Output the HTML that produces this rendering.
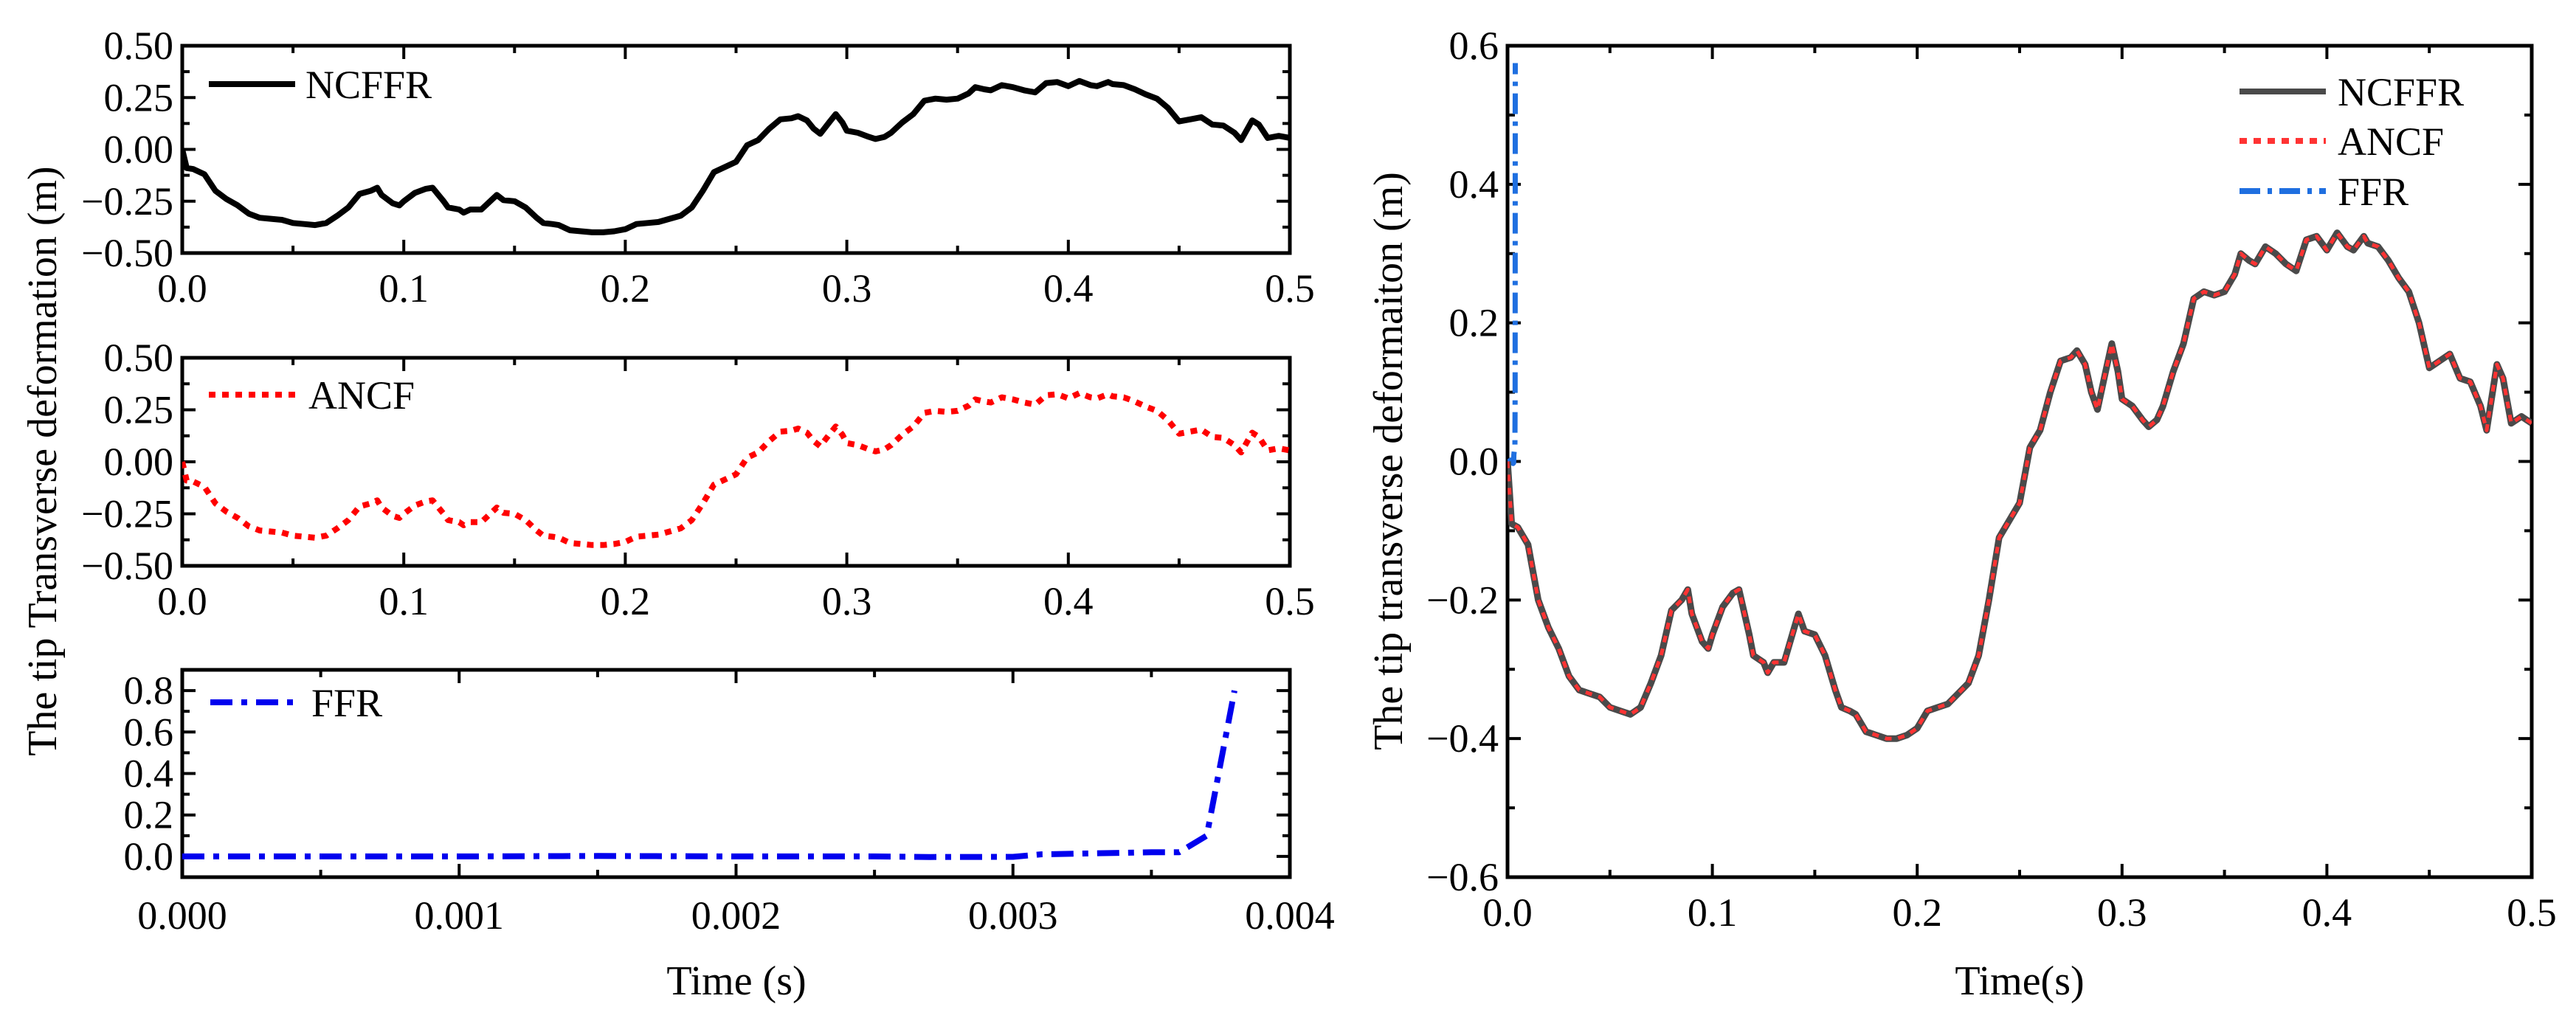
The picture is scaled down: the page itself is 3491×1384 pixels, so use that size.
<!DOCTYPE html>
<html><head><meta charset="utf-8"><style>
html,body{margin:0;padding:0;background:#fff}
svg{display:block}
text{font-family:"Liberation Serif",serif;fill:#000}
</style></head><body>
<svg id="fig" width="3491" height="1384" viewBox="0 0 3491 1384" xmlns="http://www.w3.org/2000/svg"></svg>
<script>
const timeS=[0,0.002,0.005,0.01,0.015,0.02,0.025,0.03,0.035,0.04,0.045,0.05,0.055,0.06,0.065,0.07,0.075,0.08,0.085,0.088,0.09,0.095,0.098,0.1,0.105,0.11,0.113,0.118,0.12,0.125,0.127,0.13,0.135,0.14,0.142,0.145,0.15,0.155,0.16,0.163,0.167,0.17,0.175,0.18,0.185,0.19,0.195,0.2,0.205,0.21,0.215,0.22,0.225,0.23,0.235,0.24,0.245,0.25,0.255,0.26,0.265,0.27,0.275,0.278,0.282,0.285,0.288,0.292,0.295,0.298,0.3,0.305,0.31,0.313,0.317,0.32,0.325,0.33,0.335,0.34,0.345,0.35,0.355,0.358,0.362,0.365,0.37,0.375,0.38,0.385,0.39,0.395,0.4,0.405,0.41,0.413,0.418,0.42,0.425,0.43,0.435,0.44,0.445,0.45,0.455,0.46,0.465,0.47,0.475,0.478,0.483,0.486,0.49,0.495,0.5];
const ncffr=[0,-0.09,-0.095,-0.12,-0.2,-0.24,-0.27,-0.31,-0.33,-0.335,-0.34,-0.355,-0.36,-0.365,-0.355,-0.32,-0.28,-0.215,-0.2,-0.185,-0.22,-0.26,-0.27,-0.25,-0.21,-0.19,-0.185,-0.25,-0.28,-0.29,-0.305,-0.29,-0.29,-0.24,-0.22,-0.245,-0.25,-0.28,-0.33,-0.355,-0.36,-0.365,-0.39,-0.395,-0.4,-0.4,-0.395,-0.385,-0.36,-0.355,-0.35,-0.335,-0.32,-0.28,-0.2,-0.11,-0.085,-0.06,0.02,0.045,0.1,0.145,0.15,0.16,0.14,0.1,0.075,0.13,0.17,0.13,0.09,0.08,0.06,0.05,0.06,0.08,0.13,0.17,0.235,0.245,0.24,0.245,0.27,0.3,0.29,0.285,0.31,0.3,0.285,0.275,0.32,0.325,0.305,0.33,0.31,0.305,0.325,0.315,0.31,0.29,0.265,0.245,0.2,0.135,0.145,0.155,0.12,0.115,0.08,0.045,0.14,0.12,0.055,0.065,0.055];
const ancf=ncffr.slice();
const ffrTime=[0,0.0005,0.001,0.0015,0.002,0.0025,0.0027,0.003,0.0031,0.0035,0.0036,0.0037,0.0038];
const ffr=[0,0,0,0.002,0,0,-0.003,-0.002,0.01,0.02,0.02,0.1,0.8];
const topYTicks=["-0.50","-0.25","0.00","0.25","0.50"];
const ffrYTicks=["0.0","0.2","0.4","0.6","0.8"];
const rightYTicks=["-0.6","-0.4","-0.2","0.0","0.2","0.4","0.6"];
const tXTicks=["0.0","0.1","0.2","0.3","0.4","0.5"];
const msXTicks=["0.000","0.001","0.002","0.003","0.004"];

const NS="http://www.w3.org/2000/svg";
const svg=document.getElementById('fig');
function mk(tag,attrs,parent){const e=document.createElementNS(NS,tag);for(const k in attrs)e.setAttribute(k,attrs[k]);(parent||svg).appendChild(e);return e;}

function panel(name,box,xr,yr,xTicks,yTicks,xMinor,yMinor,xOff){
  const g=mk('g',{});
  
  
  const sx=v=>box.x0+(v-xr[0])/(xr[1]-xr[0])*(box.x1-box.x0);
  const sy=v=>box.y1-(v-yr[0])/(yr[1]-yr[0])*(box.y1-box.y0);
  const clip='c'+name;
  const cp=mk('clipPath',{id:clip},g);mk('rect',{x:box.x0,y:box.y0,width:box.x1-box.x0,height:box.y1-box.y0},cp);
  const ticks=mk('g',{stroke:'#000','stroke-width':4},g);
  xTicks.forEach(t=>{const v=parseFloat(t),x=sx(v);
    mk('line',{x1:x,x2:x,y1:box.y1,y2:box.y1-18},ticks);mk('line',{x1:x,x2:x,y1:box.y0,y2:box.y0+18},ticks);
    const tx=mk('text',{x:x,y:box.y1+xOff,'font-size':54,'text-anchor':'middle'},g);tx.textContent=t;
    
    });
  xMinor.forEach(v=>{const x=sx(v);mk('line',{x1:x,x2:x,y1:box.y1,y2:box.y1-10},ticks);mk('line',{x1:x,x2:x,y1:box.y0,y2:box.y0+10},ticks);});
  yTicks.forEach(t=>{const v=parseFloat(t),y=sy(v);
    mk('line',{x1:box.x0,x2:box.x0+18,y1:y,y2:y},ticks);mk('line',{x1:box.x1,x2:box.x1-18,y1:y,y2:y},ticks);
    const tx=mk('text',{x:box.x0-12,y:y+18,'font-size':54,'text-anchor':'end'},g);tx.textContent=t.replace('-','\u2212');
    
    });
  yMinor.forEach(v=>{const y=sy(v);mk('line',{x1:box.x0,x2:box.x0+10,y1:y,y2:y},ticks);mk('line',{x1:box.x1,x2:box.x1-10,y1:y,y2:y},ticks);});
  mk('rect',{x:box.x0,y:box.y0,width:box.x1-box.x0,height:box.y1-box.y0,fill:'none',stroke:'#000','stroke-width':5},g);
  return {g,sx,sy,clip};
}
function series(p,xs,ys,style,name,ymax){
  let d='';xs.forEach((x,i)=>{let y=ys[i];if(ymax!==undefined)y=Math.min(y,ymax);d+=(i?'L':'M')+p.sx(x).toFixed(1)+','+p.sy(y).toFixed(1);});
  const e=mk('path',Object.assign({d:d,fill:'none','clip-path':'url(#'+p.clip+')','stroke-linejoin':'round'},style),p.g);
  
  
}
function legend(x1,x2,y,style,label,name,tx){
  const g=mk('g',{});
  
  
  mk('line',Object.assign({x1:x1,x2:x2,y1:y,y2:y},style),g);
  const t=mk('text',{x:tx,y:y+19,'font-size':54},g);t.textContent=label;
}
const range=(a,b,s)=>{const r=[];for(let v=a;v<=b+1e-9;v+=s)r.push(+v.toFixed(6));return r;};
const sBlack={stroke:'#000','stroke-width':8};
const sRed={stroke:'#ff0000','stroke-width':8,'stroke-dasharray':'9,9'};
const sBlue={stroke:'#0000ee','stroke-width':8,'stroke-dasharray':'30,12,8,12'};

const p1=panel('ncffr-panel',{x0:247,x1:1748,y0:62,y1:343},[0,0.5],[-0.5,0.5],tXTicks,topYTicks,range(0.05,0.45,0.1),range(-0.375,0.375,0.25),66);
series(p1,timeS,ncffr,sBlack,'ncffr-line');
legend(283,400,114,sBlack,'NCFFR','legend-ncffr',414);
const p2=panel('ancf-panel',{x0:247,x1:1748,y0:485,y1:767},[0,0.5],[-0.5,0.5],tXTicks,topYTicks,range(0.05,0.45,0.1),range(-0.375,0.375,0.25),66);
series(p2,timeS,ancf,sRed,'ancf-line');
legend(283,400,535,sRed,'ANCF','legend-ancf',418);
const p3=panel('ffr-panel',{x0:247,x1:1748,y0:908,y1:1189},[0,0.004],[-0.1,0.9],msXTicks,ffrYTicks,range(0.0005,0.0035,0.001),range(-0.1,0.9,0.2),70);
series(p3,ffrTime,ffr,sBlue,'ffr-line');
legend(285,405,952,sBlue,'FFR','legend-ffr',422);

const p4=panel('comparison-panel',{x0:2043,x1:3431,y0:62,y1:1189},[0,0.5],[-0.6,0.6],tXTicks,rightYTicks,range(0.05,0.45,0.1),range(-0.5,0.5,0.2),66);
series(p4,ffrTime,ffr,{stroke:'#1f6fe0','stroke-width':7,'stroke-dasharray':'28,10,6,10'},'ffr-line-right',0.575);
series(p4,timeS,ncffr,{stroke:'#4a4a4a','stroke-width':9},'ncffr-line-right');
series(p4,timeS,ancf,{stroke:'#ff3333','stroke-width':5,'stroke-dasharray':'9,9'},'ancf-line-right');
legend(3035,3152,124,{stroke:'#4a4a4a','stroke-width':8},'NCFFR','legend-ncffr-right',3168);
legend(3035,3152,191,{stroke:'#ff3333','stroke-width':8,'stroke-dasharray':'10,9'},'ANCF','legend-ancf-right',3168);
legend(3035,3152,259,{stroke:'#1f6fe0','stroke-width':8,'stroke-dasharray':'28,10,6,10'},'FFR','legend-ffr-right',3168);

function title(x,y,txt,rot,name){
  const t=mk('text',{x:x,y:y,'font-size':56,'text-anchor':'middle',transform:rot?'rotate(-90 '+x+' '+y+')':''});
  t.textContent=txt;
  
  
}
title(998,1348,'Time (s)',false,'x-axis-title-left');
title(2737,1348,'Time(s)',false,'x-axis-title-right');
title(76,625,'The tip Transverse deformation (m)',true,'y-axis-title-left');
title(1900,625,'The tip transverse deformaiton (m)',true,'y-axis-title-right');
</script>
</body></html>
